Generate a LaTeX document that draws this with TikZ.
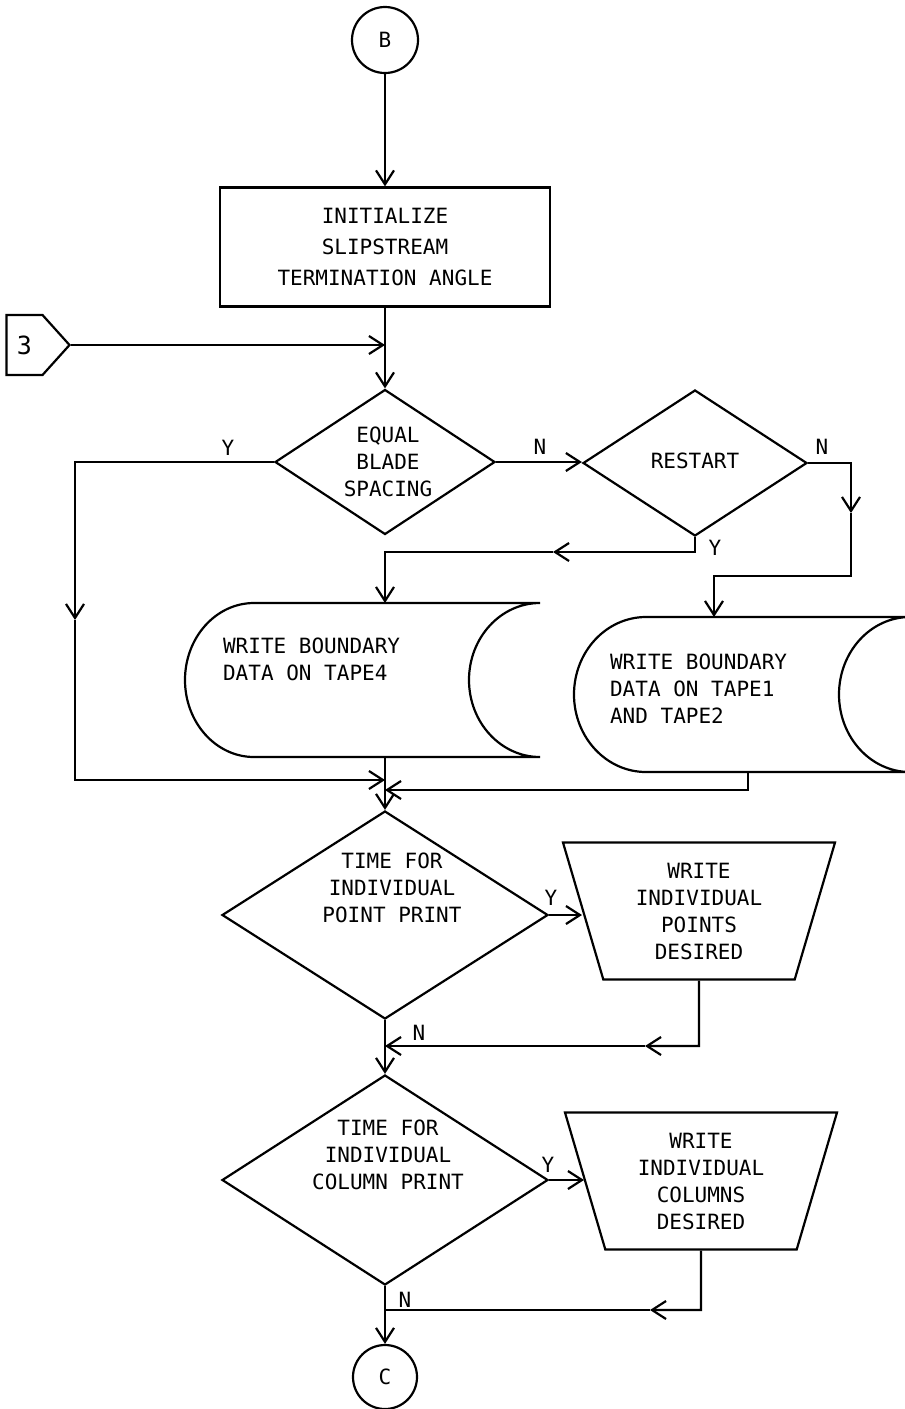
\documentclass[tikz,border=0pt]{standalone}
\usepackage{fontspec}
\setmonofont{DejaVu Sans Mono}
\usetikzlibrary{shapes.geometric,shapes.symbols,arrows.meta}

\begin{document}
\begin{tikzpicture}[x=0.5pt, y=-0.5pt, line width=1.1pt, font=\ttfamily\fontsize{10.5}{13.5}\selectfont]
    \tikzstyle{conn}=[circle, draw, minimum size=33pt, inner sep=0pt];
    \tikzstyle{process}=[rectangle, draw, minimum width=165pt, minimum height=59.5pt, align=center, font=\ttfamily\fontsize{10.5}{15.5}\selectfont];
    \tikzstyle{decision}=[diamond, draw, inner sep=0pt];
    \tikzstyle{manual}=[trapezium, draw, shape border rotate=180, trapezium stretches=true, trapezium left angle=75, trapezium right angle=75, minimum width=137pt, minimum height=68.5pt, align=center];
    \tikzstyle{txt}=[align=center, inner sep=0pt];
    \tikzstyle{arr}=[-{Straight Barb[length=7pt,width=9pt]}];

    \useasboundingbox (0,0) rectangle (905,1409);

    \node (B) at (385, 40) [conn] {B};
    \node (init) at (385, 247) [process] {INITIALIZE\\SLIPSTREAM\\TERMINATION ANGLE};
    \node (p3) at (71, 345) [signal, draw, signal to=east, signal pointer angle=96, minimum width=31.5pt, minimum height=30pt, anchor=east, font=\ttfamily\fontsize{12.5}{14}\selectfont] {3};
    \coordinate (m1) at (385, 345);

    \node (eq) at (385, 462) [decision, minimum width=110pt, minimum height=72.5pt] {};
    \node (eqt) at (388, 462) [txt] {EQUAL\\BLADE\\SPACING};
    \node (rs) at (695, 463) [decision, minimum width=112pt, minimum height=73pt] {};
    \node (rst) at (695, 461) [txt] {RESTART};

    % tape 4
    \coordinate (t4n) at (385, 603);
    \coordinate (t4s) at (385, 757);
    \draw (540, 603) -- (254, 603) arc[start angle=90, end angle=270, x radius=34.5pt, y radius=38.5pt]
        -- (540, 757) arc[start angle=270, end angle=90, x radius=35.5pt, y radius=38.5pt] -- cycle;
    \node (t4t) at (222, 637) [txt, anchor=north west, align=left] {WRITE BOUNDARY\\DATA ON TAPE4};

    % tape 1 and tape 2
    \coordinate (t1n) at (714, 617);
    \coordinate (t1s) at (748, 772);
    \draw (910, 617) -- (646, 617) arc[start angle=90, end angle=270, x radius=36pt, y radius=38.75pt]
        -- (910, 772) arc[start angle=270, end angle=90, x radius=35.5pt, y radius=38.75pt];
    \node (t1t) at (609, 653) [txt, anchor=north west, align=left] {WRITE BOUNDARY\\DATA ON TAPE1\\AND TAPE2};

    \node (d3) at (385, 915) [decision, minimum width=163pt, minimum height=104pt] {};
    \node (d3t) at (392, 888) [txt] {TIME FOR\\INDIVIDUAL\\POINT PRINT};
    \node (w1) at (699, 911) [manual] {WRITE\\INDIVIDUAL\\POINTS\\DESIRED};

    \node (d4) at (385, 1180) [decision, minimum width=163pt, minimum height=105pt] {};
    \node (d4t) at (388, 1155) [txt] {TIME FOR\\INDIVIDUAL\\COLUMN PRINT};
    \node (w2) at (701, 1181) [manual] {WRITE\\INDIVIDUAL\\COLUMNS\\DESIRED};

    \node (C) at (385, 1377) [conn, minimum size=32pt] {C};

    \coordinate (yl) at (75, 462);
    \coordinate (ya) at (75, 620);
    \coordinate (yb) at (75, 780);
    \coordinate (j1) at (385, 780);
    \coordinate (r1) at (695, 552);
    \coordinate (r2) at (553, 552);
    \coordinate (r3) at (385, 552);
    \coordinate (s1) at (851, 463);
    \coordinate (s2) at (851, 513);
    \coordinate (s3) at (851, 576);
    \coordinate (s4) at (714, 576);
    \coordinate (u1) at (748, 790);
    \coordinate (j4) at (385, 790);
    \coordinate (k1) at (699, 1046);
    \coordinate (k2) at (645, 1046);
    \coordinate (j2) at (385, 1046);
    \coordinate (k3) at (701, 1310);
    \coordinate (k4) at (650, 1310);
    \coordinate (j3) at (385, 1310);

    \draw[arr] (B) -- (init);
    \draw[arr] (p3.east) -- (m1);
    \draw[arr] (init) -- (eq);

    \draw[arr] (eq.east) -- (eq.east -| rs.west);
    \node (n1) at (540, 447) {N};

    \draw[arr] (eq.west) -- (yl) -- (ya);
    \draw[arr] (ya) -- (yb) -- (j1);
    \node (y1) at (228, 448) {Y};

    \draw[arr] (rs.south) -- (r1) -- (r2);
    \draw[arr] (r2) -- (r3) -- (t4n);
    \node (y2) at (715, 548) {Y};

    \draw[arr] (rs.east) -- (s1) -- (s2);
    \draw[arr] (s2) -- (s3) -- (s4) -- (t1n);
    \node (n2) at (822, 447) {N};

    \draw[arr] (t1s) -- (u1) -- (j4);
    \draw[arr] (t4s) -- (d3);

    \draw[arr] (d3.east) -- (d3.east -| w1.west);
    \node (y3) at (551, 898) {Y};
    \draw[arr] (w1.south) -- (k1) -- (k2);
    \draw[arr] (k2) -- (j2);
    \node (n3) at (419, 1033) {N};

    \draw[arr] (d3) -- (d4);

    \draw[arr] (d4.east) -- (d4.east -| w2.west);
    \node (y4) at (548, 1165) {Y};
    \draw[arr] (w2.south) -- (k3) -- (k4);
    \draw (k4) -- (j3);
    \node (n4) at (405, 1300) {N};

    \draw[arr] (d4) -- (C);

\end{tikzpicture}
\end{document}
